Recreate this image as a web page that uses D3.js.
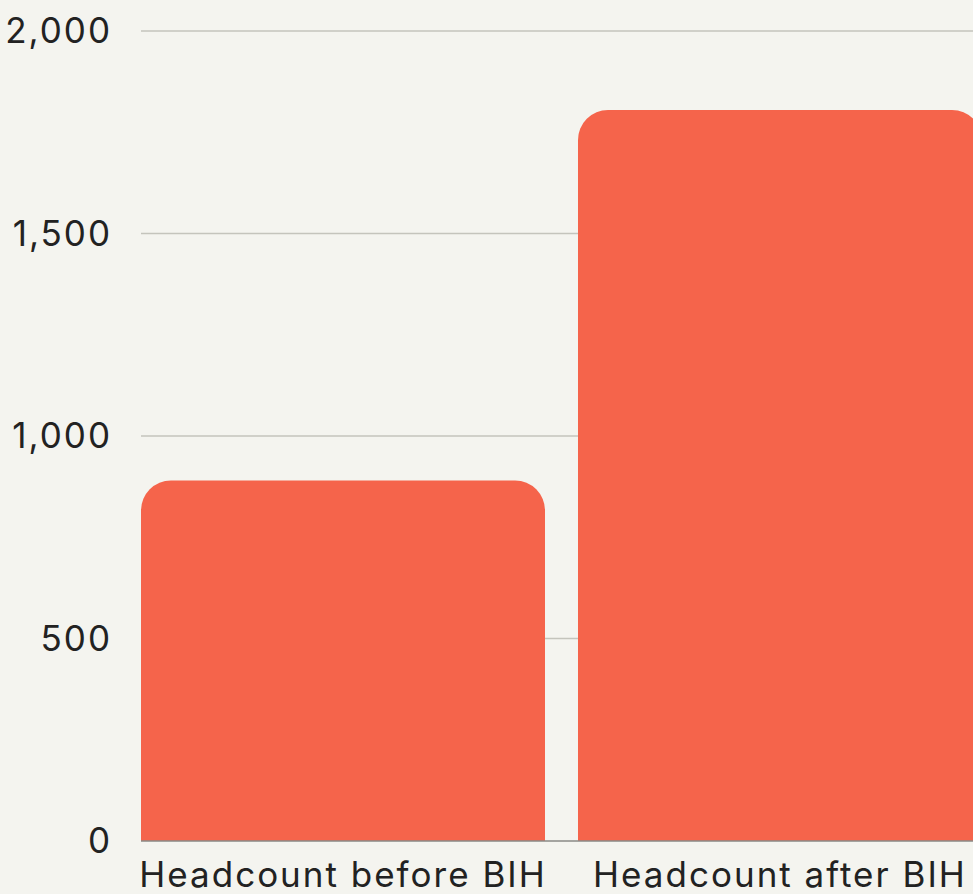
<!DOCTYPE html>
<html>
<head>
<meta charset="utf-8">
<script src="https://cdn.jsdelivr.net/npm/d3@7"></script>
<style>
    html, body { margin: 0; padding: 0; background: #f4f4ef; }
    svg { display: block; }
    .tick-label { font-family: Inter, "Open Sans", sans-serif; font-size: 35px; letter-spacing: 2px; fill: #222; }
    .cat-label { font-family: Inter, "Open Sans", sans-serif; font-size: 35px; letter-spacing: 2px; fill: #222; }
</style>
</head>
<body>
<svg id="chart"></svg>
<script>
// 数据
let categories = ["Headcount before BIH", "Headcount after BIH"];
let values = [890, 1805];
let yTicks = [0, 500, 1000, 1500, 2000];

let width = 973;
let height = 894;
let padding = {left: 141, right: -9, top: 31, bottom: 53};

let svg = d3.select("#chart")
    .attr("width", width)
    .attr("height", height);

// x轴
let xScale = d3.scaleBand()
    .domain(categories)
    .range([padding.left, width - padding.right])
    .paddingInner(0.0755)
    .paddingOuter(0);

// y轴
let yScale = d3.scaleLinear()
    .domain([0, 2000])
    .range([height - padding.bottom, padding.top]);

// 网格线
svg.selectAll(".grid")
    .data(yTicks.filter(d => d > 0))
    .enter()
    .append("line")
    .attr("class", "grid")
    .attr("x1", padding.left)
    .attr("x2", width)
    .attr("y1", d => yScale(d))
    .attr("y2", d => yScale(d))
    .attr("stroke", "#c4c4bc")
    .attr("stroke-width", 1.5);

// y轴刻度文字
svg.selectAll(".tick-label")
    .data(yTicks)
    .enter()
    .append("text")
    .attr("class", "tick-label")
    .attr("x", 112)
    .attr("y", d => yScale(d))
    .attr("dy", "0.35em")
    .attr("text-anchor", "end")
    .text(d => d3.format(",")(d));

// 柱子（顶部圆角）
let r = 30;
svg.selectAll(".bar")
    .data(values)
    .enter()
    .append("path")
    .attr("class", "bar")
    .attr("fill", "#f5644b")
    .attr("d", function (d, i) {
        let x0 = xScale(categories[i]);
        let x1 = x0 + xScale.bandwidth();
        let y0 = yScale(0);
        let y1 = yScale(d);
        return "M" + x0 + "," + y0 +
            "V" + (y1 + r) +
            "A" + r + "," + r + " 0 0 1 " + (x0 + r) + "," + y1 +
            "H" + (x1 - r) +
            "A" + r + "," + r + " 0 0 1 " + x1 + "," + (y1 + r) +
            "V" + y0 + "Z";
    });

// 基线
svg.append("line")
    .attr("x1", padding.left)
    .attr("x2", width)
    .attr("y1", yScale(0))
    .attr("y2", yScale(0))
    .attr("stroke", "#8a8a86")
    .attr("stroke-width", 1.5);

// 类别文字
svg.selectAll(".cat-label")
    .data(categories)
    .enter()
    .append("text")
    .attr("class", "cat-label")
    .attr("x", d => xScale(d) + xScale.bandwidth() / 2)
    .attr("y", 887)
    .attr("text-anchor", "middle")
    .text(d => d);
</script>
</body>
</html>
